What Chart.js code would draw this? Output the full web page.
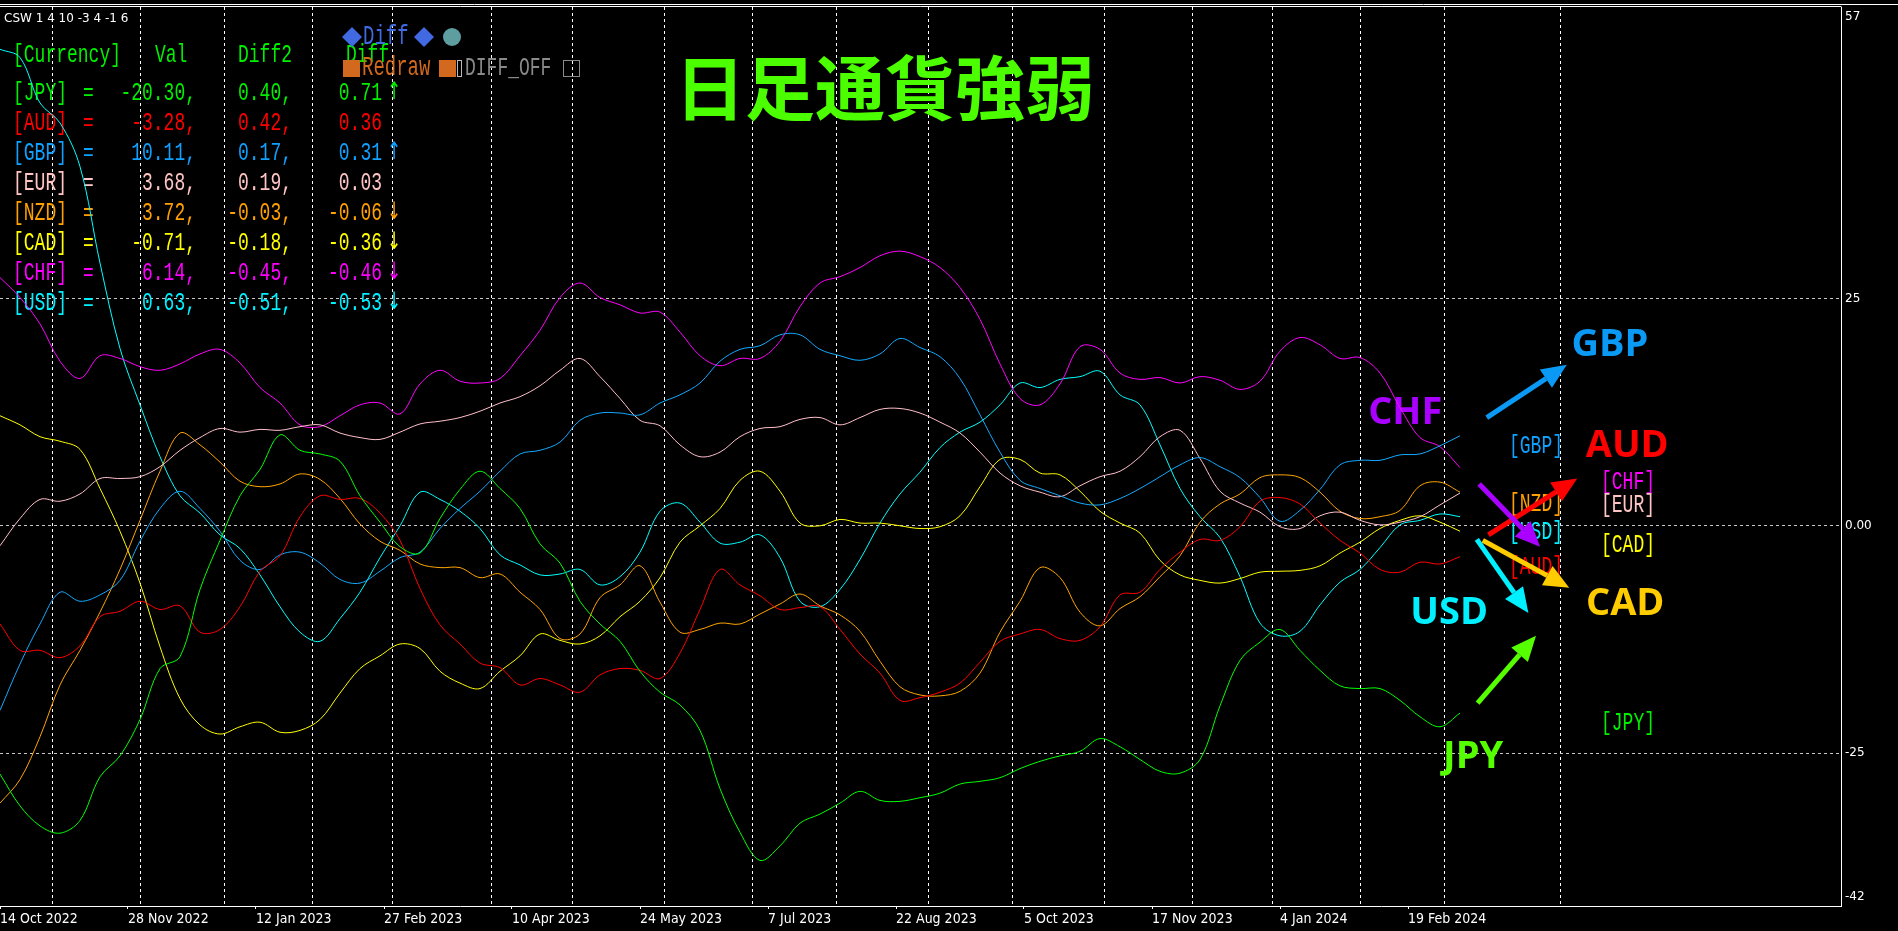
<!DOCTYPE html>
<html>
<head>
<meta charset="utf-8">
<script src="https://cdn.jsdelivr.net/npm/chart.js@4/dist/chart.umd.min.js"></script>
<style>
html,body{margin:0;padding:0;background:#000;overflow:hidden}
#wrap{position:relative;width:1898px;height:931px}
canvas{display:block}
</style>
</head>
<body>
<div id="wrap"><canvas id="c" width="1898" height="931"></canvas></div>
<script>
// ---------- axis data ----------
const xTickIdx = [0,32,64,96,128,160,192,224,256,288,320,352];
const xTickLabels = ['14 Oct 2022','28 Nov 2022','12 Jan 2023','27 Feb 2023','10 Apr 2023','24 May 2023','7 Jul 2023','22 Aug 2023','5 Oct 2023','17 Nov 2023','4 Jan 2024','19 Feb 2024'];
const monthGridIdx = [13,35,56,78,98,123,143,166,188,209,232,253,276,298,318,340,361,390];
const yTickVals = [56,25,0,-25,-40.8];
const yTickLabels = ['57','25','0.00','-25','-42'];
const SAMPLE_STEP = 5; // one sample every 5 daily bars

// ---------- series (strength values) ----------
const jpy = [-27.3,-30.8,-33.0,-33.8,-32.4,-27.6,-25.3,-21.3,-15.7,-14.4,-7.0,-1.6,3.3,
  6.2,10.0,8.3,7.9,7.1,3.3,0.4,-2.3,-3.0,0.8,4.0,6.0,
  4.1,1.9,-2.0,-4.1,-8.3,-10.8,-12.7,-16.0,-18.3,-19.7,-22.5,-28.9,-33.7,
  -36.8,-35.2,-32.7,-31.7,-30.5,-29.2,-30.2,-30.3,-29.9,-29.4,-28.4,-28.1,
  -27.7,-26.7,-25.9,-25.3,-24.8,-23.4,-24.3,-25.7,-27.0,-27.2,-25.7,-19.8,
  -14.8,-12.8,-11.4,-13.7,-15.9,-17.6,-17.9,-17.9,-19.2,-21.0,-22.1,-20.6];
const aud = [-10.8,-13.7,-13.7,-14.5,-13.2,-10.0,-9.4,-8.3,-9.2,-8.8,-11.7,-11.4,-8.9,
  -5.0,-3.3,1.0,3.3,2.9,3.0,1.4,-1.6,-6.9,-10.9,-13.0,-15.1,
  -15.6,-17.5,-16.8,-17.5,-18.3,-16.4,-15.7,-15.9,-16.8,-14.0,-9.2,-4.8,-6.5,
  -7.7,-9.2,-9.0,-8.9,-11.4,-14.1,-16.2,-19.2,-18.9,-18.3,-17.3,-15.0,
  -12.7,-11.9,-11.4,-12.4,-12.6,-11.1,-7.6,-7.3,-4.8,-2.9,-1.5,-1.6,
  -0.1,2.7,3.1,2.4,0.3,-1.6,-3.0,-4.8,-5.1,-4.0,-4.2,-3.4];
const gbp = [-20.3,-15.2,-10.8,-7.3,-8.3,-7.6,-6.0,-1.7,1.9,3.8,1.9,-0.6,-3.8,
  -4.8,-3.2,-2.9,-4.1,-5.9,-6.3,-5.0,-3.5,-2.9,-0.3,1.9,3.8,
  6.0,7.9,8.3,9.2,11.6,12.4,12.4,12.2,13.5,14.4,15.7,18.1,19.4,
  19.8,21.0,21.0,19.4,18.7,18.2,18.9,20.6,19.6,18.6,16.2,12.2,
  8.1,5.0,4.1,3.3,2.5,2.3,3.0,4.1,5.4,6.7,7.5,6.5,
  5.3,3.1,0.5,1.7,4.0,6.7,7.2,7.2,7.8,7.9,8.8,9.9];
const eur = [-2.2,0.8,2.9,2.7,3.5,5.2,5.2,5.4,6.5,8.3,9.7,10.7,10.3,
  10.6,10.5,10.9,11.1,10.2,9.7,9.5,10.3,11.2,11.5,11.9,12.6,
  13.5,14.2,15.4,17.1,18.4,16.4,14.0,11.6,11.0,8.9,7.6,8.1,9.8,
  10.7,10.9,11.7,11.9,11.1,11.9,12.8,12.9,12.4,11.4,10.2,8.1,
  5.8,4.4,3.7,3.2,4.4,5.4,6.0,7.6,9.8,10.5,7.4,3.8,
  2.5,1.5,-0.1,-0.3,1.1,1.5,0.6,0.1,0.4,1.0,2.3,3.6];
const nzd = [-30.5,-27.9,-23.2,-17.5,-13.7,-9.5,-4.8,0.6,6.0,10.2,8.9,7.0,4.9,
  4.3,4.6,5.7,5.1,3.0,0.2,-1.7,-2.7,-4.2,-4.6,-4.6,-5.7,
  -5.3,-7.3,-9.2,-12.4,-11.9,-7.9,-6.5,-4.4,-8.4,-11.7,-11.4,-10.7,-10.8,
  -9.7,-8.6,-7.5,-8.8,-9.8,-11.6,-14.9,-17.7,-18.6,-18.7,-18.2,-16.2,
  -11.7,-8.3,-4.6,-5.7,-9.5,-11.0,-9.1,-7.8,-5.6,-3.3,0.4,2.4,
  3.5,5.3,5.6,5.3,3.7,1.6,0.8,1.0,1.7,4.4,4.8,3.7];
const cad = [12.1,11.1,9.8,9.3,8.4,4.1,-0.6,-6.3,-13.3,-19.0,-21.9,-22.9,-22.1,
  -21.6,-22.7,-22.5,-21.3,-18.4,-15.7,-14.3,-13.0,-13.5,-16.0,-17.3,-17.9,
  -16.0,-14.3,-11.9,-12.6,-13.0,-12.1,-10.0,-8.3,-5.7,-1.8,0.0,1.9,5.0,
  6.0,3.8,0.3,0.0,0.7,0.3,0.3,0.0,-0.3,-0.1,1.1,4.3,
  7.3,7.3,5.8,5.6,3.8,1.6,0.3,-0.8,-3.8,-5.4,-6.0,-6.3,
  -5.8,-5.1,-5.0,-4.9,-4.4,-3.0,-1.8,-0.3,0.6,1.1,0.4,-0.6];
const chf = [27.3,25.1,22.2,18.1,16.2,18.7,18.4,17.5,17.1,17.8,18.9,19.4,17.9,
  15.2,13.5,11.1,10.9,12.1,13.3,13.5,12.3,15.6,17.1,15.9,15.7,
  16.2,18.7,21.5,25.1,26.7,25.1,24.3,23.4,23.5,21.3,18.7,17.6,18.4,
  18.4,20.3,24.1,26.7,27.4,28.4,29.7,30.2,29.6,28.4,26.2,22.7,
  17.8,14.0,13.3,15.6,19.7,19.4,16.8,16.1,16.3,15.7,16.4,16.0,
  15.0,15.9,19.2,20.7,19.9,18.4,18.5,16.8,13.0,9.7,8.7,6.4];
const usd = [52.4,51.5,46.5,44.3,39.5,28.9,19.5,13.3,7.6,3.3,1.4,-1.0,-2.5,
  -5.4,-8.9,-11.7,-12.7,-10.2,-7.3,-3.5,0.0,3.7,2.9,1.6,-0.3,
  -3.2,-4.3,-5.4,-5.3,-4.8,-6.5,-5.6,-2.9,1.6,2.5,0.4,-1.9,-1.8,
  -1.0,-3.5,-8.3,-8.9,-7.0,-3.7,0.3,3.5,5.9,8.6,10.3,11.4,
  13.3,15.7,15.2,16.1,16.4,17.0,14.4,13.3,8.9,4.1,1.0,-1.3,
  -5.6,-10.7,-12.1,-11.6,-8.7,-6.2,-4.8,-2.4,0.1,0.6,1.3,1.0];

// ---------- legend table (text) ----------
const currencies = ['JPY','AUD','GBP','EUR','NZD','CAD','CHF','USD'];
const valCol   = ['-20.30','-3.28','10.11','3.68','3.72','-0.71','6.14','0.63'];
const diff2Col = ['0.40','0.42','0.17','0.19','-0.03','-0.18','-0.45','-0.51'];
const diffCol  = ['0.71','0.36','0.31','0.03','-0.06','-0.36','-0.46','-0.53'];
const trendCol = ['↑','','↑','','↓','↓','↓','↓'];

// ---------- styles ----------
const lineColor = {JPY:'#00ff00',AUD:'#ff0000',GBP:'#12aaff',EUR:'#ffc0cb',NZD:'#ffa500',CAD:'#ffff00',CHF:'#ff00ff',USD:'#00ffff'};
const textColor = {JPY:'#00f000',AUD:'#ff0000',GBP:'#10a0ff',EUR:'#ffc4c4',NZD:'#ffa000',CAD:'#ffff00',CHF:'#ff00ff',USD:'#00f0ff'};
const seriesMap = {JPY:jpy,AUD:aud,GBP:gbp,EUR:eur,NZD:nzd,CAD:cad,CHF:chf,USD:usd};

// annotation layout (in axis units: bar index / strength value)
const bigLabels = [
  {t:'GBP', x:402.5, y:20.2, c:'#0a9af5'},
  {t:'CHF', x:351.3, y:12.7, c:'#aa00ff'},
  {t:'AUD', x:406.8, y:9.0,  c:'#ff0000'},
  {t:'CAD', x:406.3, y:-8.3, c:'#ffcc00'},
  {t:'USD', x:362.3, y:-9.3, c:'#00f0ff'},
  {t:'JPY', x:368.3, y:-25.1,c:'#55ff00'}
];
const tagLabels = [
  {t:'GBP', x:384, y:8.8},{t:'CHF', x:407, y:4.8},{t:'EUR', x:407, y:2.3},
  {t:'NZD', x:384, y:2.4},{t:'USD', x:384, y:-0.7},{t:'CAD', x:407, y:-2.1},
  {t:'AUD', x:384, y:-4.6},{t:'JPY', x:407, y:-21.7}
];
const arrows = [
  {x1:371.7,y1:11.9,x2:391.7,y2:17.7,c:'#0a9af5'},
  {x1:372.1,y1:-1.0,x2:394.3,y2:5.2,c:'#ff0000'},
  {x1:369.8,y1:4.6,x2:385.0,y2:-2.3,c:'#aa00ff'},
  {x1:370.7,y1:-1.6,x2:392.3,y2:-6.8,c:'#ffcc00'},
  {x1:369.2,y1:-1.5,x2:382.1,y2:-9.6,c:'#00f0ff'},
  {x1:369.4,y1:-19.5,x2:384.0,y2:-12.1,c:'#55ff00'}
];

const X_MAX = 460.25, Y_MIN = -41.81, Y_MAX = 57.05;
const MONO = '"Liberation Mono","DejaVu Sans Mono",monospace';

function monoText(ctx, s, x, y, color, align, size, family) {
  ctx.save();
  ctx.translate(x, y);
  ctx.scale(1, 1.42);
  ctx.font = (size || 18) + 'px ' + (family || MONO);
  ctx.textAlign = align || 'left';
  ctx.textBaseline = 'middle';
  ctx.fillStyle = color;
  ctx.fillText(s, 0, 0);
  ctx.restore();
}
function diamond(ctx, cx, cy, r, color) {
  ctx.save(); ctx.fillStyle = color;
  ctx.beginPath(); ctx.moveTo(cx, cy - r); ctx.lineTo(cx + r, cy); ctx.lineTo(cx, cy + r); ctx.lineTo(cx - r, cy);
  ctx.closePath(); ctx.fill(); ctx.restore();
}
function drawArrow(ctx, x1, y1, x2, y2, color) {
  const a = Math.atan2(y2 - y1, x2 - x1);
  const hl = 25, hw = 11;
  const bx = x2 - hl * Math.cos(a), by = y2 - hl * Math.sin(a);
  ctx.save();
  ctx.strokeStyle = color; ctx.fillStyle = color; ctx.lineWidth = 5;
  ctx.beginPath(); ctx.moveTo(x1, y1); ctx.lineTo(bx, by); ctx.stroke();
  ctx.beginPath(); ctx.moveTo(x2, y2);
  ctx.lineTo(bx + hw * Math.sin(a), by - hw * Math.cos(a));
  ctx.lineTo(bx - hw * Math.sin(a), by + hw * Math.cos(a));
  ctx.closePath(); ctx.fill();
  ctx.restore();
}

const bgPlugin = {
  id: 'bg',
  beforeDraw(chart) {
    const ctx = chart.ctx;
    ctx.save(); ctx.fillStyle = '#000'; ctx.fillRect(0, 0, chart.width, chart.height); ctx.restore();
  },
  beforeDatasetsDraw(chart) {
    const ctx = chart.ctx, sx = chart.scales.x, sy = chart.scales.y;
    // header line
    ctx.save();
    ctx.font = '12px "DejaVu Sans", sans-serif';
    ctx.fillStyle = '#ffffff'; ctx.textBaseline = 'middle'; ctx.textAlign = 'left';
    ctx.fillText('CSW 1 4 10 -3 4 -1 6', 4, 19);
    ctx.restore();
    // title
    ctx.save();
    ctx.font = 'bold 70px "Noto Sans CJK JP", sans-serif';
    ctx.fillStyle = '#4cff00'; ctx.textAlign = 'center'; ctx.textBaseline = 'alphabetic';
    ctx.fillText('日足通貨強弱', 885, 115);
    ctx.restore();
    // table
    monoText(ctx, '[Currency]', 13, 55, '#00f000', 'left');
    monoText(ctx, 'Val', 155, 55, '#00f000', 'left');
    monoText(ctx, 'Diff2', 238, 55, '#00f000', 'left');
    monoText(ctx, 'Diff', 346, 55, '#00f000', 'left');
    currencies.forEach((c, i) => {
      const y = 93 + 30 * i, col = textColor[c];
      monoText(ctx, '[' + c + ']', 13, y, col, 'left');
      monoText(ctx, '=', 83, y, col, 'left');
      monoText(ctx, valCol[i] + ',', 196, y, col, 'right');
      monoText(ctx, diff2Col[i] + ',', 292, y, col, 'right');
      monoText(ctx, diffCol[i], 382, y, col, 'right');
      if (trendCol[i]) monoText(ctx, trendCol[i], 394, y, col, 'center', 17, '"DejaVu Sans",sans-serif');
    });
    // buttons
    diamond(ctx, 352, 37, 10, '#4169e1');
    monoText(ctx, 'Diff', 363, 37, '#4169e1', 'left', 19);
    diamond(ctx, 424, 37, 10, '#4169e1');
    ctx.save();
    ctx.fillStyle = '#5f9ea0'; ctx.beginPath(); ctx.arc(452, 37, 9, 0, Math.PI * 2); ctx.fill();
    ctx.fillStyle = '#d2691e'; ctx.fillRect(343, 60, 17, 17); ctx.fillRect(439, 60, 17, 17);
    ctx.strokeStyle = '#bbbbbb'; ctx.lineWidth = 1; ctx.strokeRect(457.5, 60.5, 4, 16);
    ctx.strokeStyle = '#8a8a8a'; ctx.strokeRect(563.5, 60.5, 16, 16);
    ctx.restore();
    monoText(ctx, 'Redraw', 362, 68, '#d2691e', 'left', 19);
    monoText(ctx, 'DIFF_OFF', 465, 68, '#8a8a8a', 'left');
    // tag labels
    tagLabels.forEach(l => monoText(ctx, '[' + l.t + ']', sx.getPixelForValue(l.x), sy.getPixelForValue(l.y), textColor[l.t], 'center'));
    // arrows
    arrows.forEach(a => drawArrow(ctx, sx.getPixelForValue(a.x1), sy.getPixelForValue(a.y1), sx.getPixelForValue(a.x2), sy.getPixelForValue(a.y2), a.c));
    // big labels
    ctx.save();
    ctx.font = 'bold 38px "Open Sans", "DejaVu Sans", sans-serif';
    ctx.textAlign = 'center'; ctx.textBaseline = 'alphabetic';
    bigLabels.forEach(l => { ctx.fillStyle = l.c; ctx.fillText(l.t, sx.getPixelForValue(l.x), sy.getPixelForValue(l.y) + 13.5); });
    ctx.restore();
  },
  afterDraw(chart) {
    const ctx = chart.ctx, a = chart.chartArea;
    ctx.save();
    ctx.strokeStyle = '#ffffff'; ctx.lineWidth = 1;
    ctx.beginPath(); ctx.moveTo(0, 4.5); ctx.lineTo(chart.width, 4.5); ctx.stroke();
    ctx.beginPath(); ctx.moveTo(0, 6.5); ctx.lineTo(a.right + 0.5, 6.5); ctx.stroke();
    ctx.restore();
  }
};

const datasets = currencies.map(c => ({
  label: c,
  data: seriesMap[c].map((v, k) => ({x: k * SAMPLE_STEP, y: v})),
  borderColor: lineColor[c],
  borderWidth: 1,
  pointRadius: 0,
  tension: 0.35,
  fill: false,
  xAxisID: 'x', yAxisID: 'y'
}));

new Chart(document.getElementById('c'), {
  type: 'line',
  data: { datasets },
  options: {
    responsive: false,
    devicePixelRatio: 1,
    animation: false,
    layout: { padding: { top: 7, left: 0, right: 0, bottom: 0 }, autoPadding: false },
    plugins: { legend: { display: false }, tooltip: { enabled: false }, title: { display: false } },
    scales: {
      x: {
        type: 'linear', position: 'bottom', min: 0, max: X_MAX,
        afterBuildTicks: s => { s.ticks = xTickIdx.map(v => ({ value: v })); },
        ticks: {
          autoSkip: false, maxRotation: 0, minRotation: 0, align: 'start', padding: 2,
          color: '#ffffff', font: { family: '"DejaVu Sans Condensed","Liberation Sans Narrow",sans-serif', size: 14 },
          callback: (v, i) => xTickLabels[i]
        },
        grid: { drawOnChartArea: false, drawTicks: true, tickLength: 3, color: '#ffffff' },
        border: { display: true, color: '#ffffff', width: 1 },
        afterFit: s => { s.height = 25; s.paddingLeft = 0; s.paddingRight = 0; }
      },
      xg: {
        type: 'linear', position: 'bottom', min: 0, max: X_MAX,
        afterBuildTicks: s => { s.ticks = monthGridIdx.map(v => ({ value: v })); },
        ticks: { display: false },
        grid: { drawOnChartArea: true, drawTicks: false, color: '#ffffff', lineWidth: 1 },
        border: { display: false, dash: [3, 3] },
        afterFit: s => { s.height = 0; s.paddingLeft = 0; s.paddingRight = 0; }
      },
      y: {
        type: 'linear', position: 'right', min: Y_MIN, max: Y_MAX,
        afterBuildTicks: s => { s.ticks = yTickVals.map(v => ({ value: v })); },
        ticks: {
          padding: 4, color: '#ffffff', font: { family: '"DejaVu Sans",sans-serif', size: 12 },
          callback: (v, i) => yTickLabels[i]
        },
        grid: {
          drawTicks: false,
          color: c => (c.tick && [25, 0, -25].includes(c.tick.value)) ? '#c8c8c8' : 'rgba(0,0,0,0)'
        },
        border: { display: true, color: '#ffffff', width: 1, dash: [3, 3] },
        afterFit: s => { s.width = 57; s.paddingTop = 0; s.paddingBottom = 0; }
      }
    }
  },
  plugins: [bgPlugin]
});
</script>
</body>
</html>
